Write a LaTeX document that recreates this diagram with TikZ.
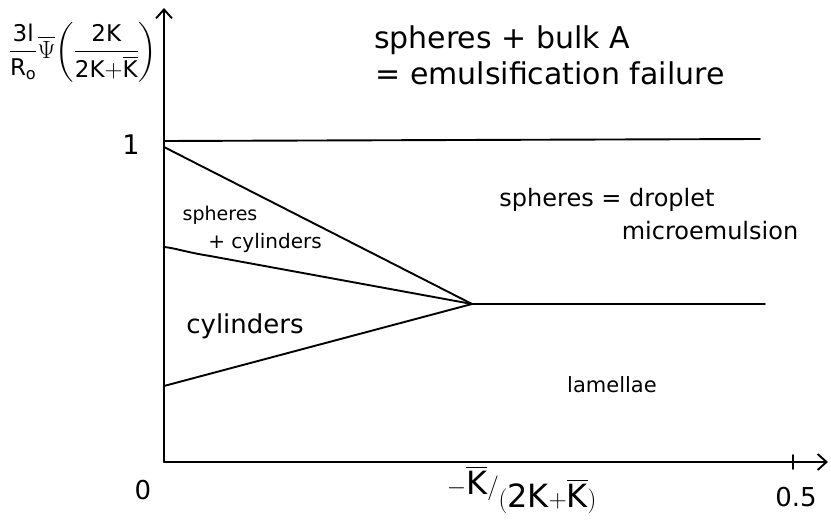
\documentclass[tikz,border=0pt]{standalone}
\usepackage{amsmath}
\usepackage{fontspec}
\setmainfont{DejaVu Sans}
\usetikzlibrary{arrows.meta}
\newcommand{\Kb}{\overline{\mathrm{K}}}
\begin{document}
\begin{tikzpicture}[x=1pt,y=-1pt,line width=1.9pt,line cap=round,line join=round,
  lbl/.style={inner sep=0pt,font=\fontsize{24}{28}\selectfont},
  ax/.style={-{Straight Barb[length=9pt,width=16pt,line width=1.9pt]}}]
\useasboundingbox (0,0) rectangle (831,529);
% axes
\coordinate (O) at (164,462);
\coordinate (ytop) at (164,8);
\coordinate (xend) at (828,462);
\draw[ax] (O) -- (ytop);
\draw[ax] (O) -- (xend);
\coordinate (t1) at (793,455);
\coordinate (t2) at (793,469);
\draw (t1) -- (t2);
% phase boundaries
\coordinate (A) at (164,141);
\coordinate (Ar) at (760,139);
\coordinate (B) at (164,147);
\coordinate (P) at (472,304);
\coordinate (Pr) at (765,304);
\coordinate (C) at (164,247);
\coordinate (D) at (164,386);
\draw (A) -- (Ar);
\draw (B) -- (P);
\draw (C) .. controls (175,248) and (185,252) .. (210,256) -- (P);
\draw (D) -- (P);
\draw (P) -- (Pr);
% labels
\node[lbl,font=\fontsize{27}{30}\selectfont] (one) at (131,145) {1};
\node[lbl,font=\fontsize{26}{30}\selectfont] (zero) at (143,490) {0};
\node[lbl,font=\fontsize{26}{30}\selectfont] (half) at (796,497) {0.5};
\node[lbl,font=\fontsize{32}{36}\selectfont,anchor=west] (xl) at (446,490) {$-\Kb/\raisebox{-0.4em}{$\mathrm{(2K{+}\Kb)}$}$};
\node[lbl,font=\fontsize{23}{26}\selectfont] (yl) at (83,52) {$\displaystyle\frac{\mathrm{3l}}{\mathrm{R_o}}\overline{\Psi}\biggl(\frac{\mathrm{2K}}{\mathrm{2K{+}\Kb}}\biggr)$};
\node[lbl,font=\fontsize{30}{34}\selectfont] (t1a) at (502,40) {spheres + bulk A};
\node[lbl,font=\fontsize{30}{34}\selectfont] (t1b) at (550,73) {= emulsification failure};
\node[lbl,font=\fontsize{24}{28}\selectfont] (t2a) at (607,200) {spheres = droplet};
\node[lbl,font=\fontsize{24}{28}\selectfont] (t2b) at (710,231) {microemulsion};
\node[lbl,font=\fontsize{19}{22}\selectfont] (t3a) at (220,215) {spheres};
\node[lbl,font=\fontsize{20}{22}\selectfont] (t3b) at (265,243) {+ cylinders};
\node[lbl,font=\fontsize{26}{28}\selectfont] (t4) at (245,326) {cylinders};
\node[lbl,font=\fontsize{21}{24}\selectfont] (t5) at (612,385) {lamellae};
\end{tikzpicture}
\end{document}
